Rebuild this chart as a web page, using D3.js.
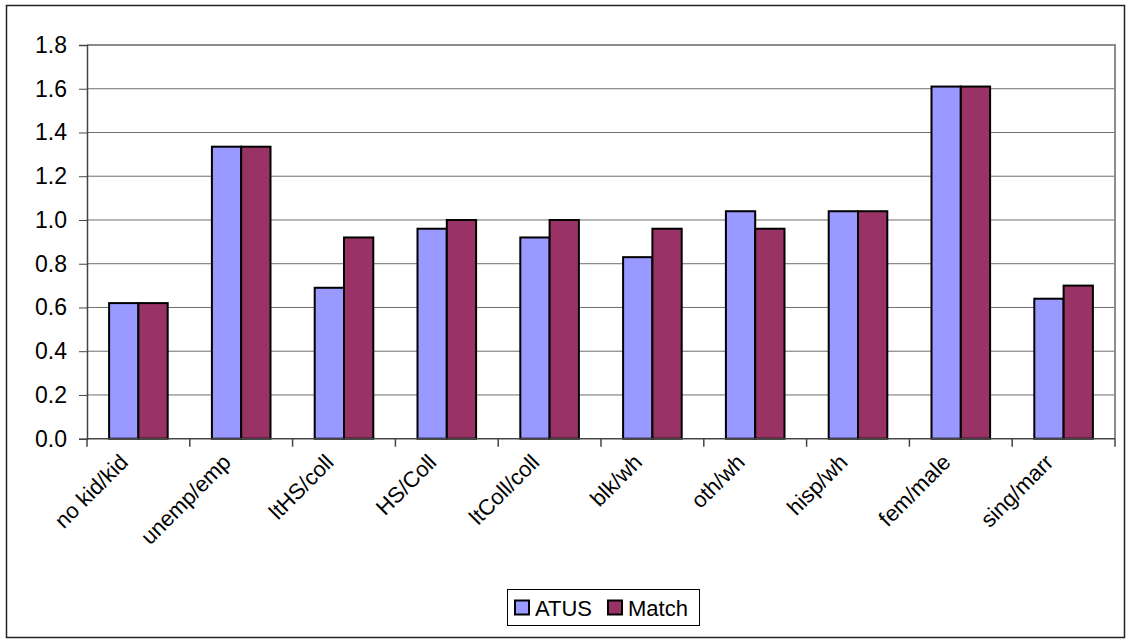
<!DOCTYPE html>
<html><head><meta charset="utf-8">
<script src="https://cdn.jsdelivr.net/npm/d3@7"></script>
<style>body{margin:0;background:#fff}svg{display:block}text{font-family:"Liberation Sans",Arial,sans-serif;fill:#000}</style>
</head><body><svg id="c" width="1130" height="640"></svg>
<script>
const categories = ["no kid/kid","unemp/emp","ltHS/coll","HS/Coll","ltColl/coll","blk/wh","oth/wh","hisp/wh","fem/male","sing/marr"];
const atus  = [0.62,1.335,0.69,0.96,0.92,0.83,1.04,1.04,1.61,0.64];
const match = [0.62,1.335,0.92,1.00,1.00,0.96,0.96,1.04,1.61,0.70];
const seriesNames = ["ATUS","Match"];
const seriesColors = ["#9999FF","#993366"];
const yTicks = [0,0.2,0.4,0.6,0.8,1.0,1.2,1.4,1.6,1.8];

const svg = d3.select("#c");
const L=87, R=1115, T=45, B=438.7;
svg.append("rect").attr("x",6.5).attr("y",5.5).attr("width",1118).attr("height",632)
  .attr("fill","#fff").attr("stroke","#222").attr("stroke-width",1.5);

const x = d3.scaleBand().domain(categories).range([L,R]).paddingInner(0.43).paddingOuter(0.215);
const xs = d3.scaleBand().domain(seriesNames).range([0,x.bandwidth()]);
const y = d3.scaleLinear().domain([0,1.8]).range([B,T]);

// gridlines
svg.append("g").selectAll("line").data(yTicks.slice(1)).join("line")
  .attr("x1",L).attr("x2",R).attr("y1",d=>y(d)).attr("y2",d=>y(d))
  .attr("stroke","#6e6e6e").attr("stroke-width",1);
// plot frame top/right
svg.append("path").attr("d",`M${L},${T}H${R}V${B}`).attr("fill","none").attr("stroke","#8c8c8c").attr("stroke-width",2);

// y axis
const yAxis = d3.axisLeft(y).tickValues(yTicks).tickFormat(d3.format(".1f")).tickSize(8).tickPadding(12);
const gy = svg.append("g").attr("transform",`translate(${L},0)`).call(yAxis);
gy.select(".domain").attr("stroke","#444").attr("stroke-width",1.5);
gy.selectAll(".tick line").attr("stroke","#444");
gy.selectAll("text").attr("font-size",23).attr("font-family","Liberation Sans, Arial, sans-serif").attr("fill","#000");

// bars
const g = svg.append("g");
categories.forEach((c,i)=>{
  [atus[i],match[i]].forEach((v,j)=>{
    g.append("rect").attr("x",x(c)+xs(seriesNames[j])).attr("y",y(v))
      .attr("width",xs.bandwidth()).attr("height",y(0)-y(v))
      .attr("fill",seriesColors[j]).attr("stroke","#000").attr("stroke-width",2);
  });
});

// x axis
const bounds = d3.range(categories.length+1).map(i=>L+i*(R-L)/categories.length);
svg.append("line").attr("x1",L).attr("x2",R).attr("y1",B).attr("y2",B).attr("stroke","#444").attr("stroke-width",1.5);
svg.append("g").selectAll("line").data(bounds).join("line")
  .attr("x1",d=>d).attr("x2",d=>d).attr("y1",B).attr("y2",B+8).attr("stroke","#444").attr("stroke-width",1.5);
svg.append("g").selectAll("text").data(categories).join("text")
  .attr("transform",d=>`translate(${x(d)+x.bandwidth()/2-9},${B+25}) rotate(-45)`)
  .attr("text-anchor","end").attr("font-size",22).text(d=>d);

// legend
const lg = svg.append("g");
lg.append("rect").attr("x",507.5).attr("y",589.5).attr("width",192).attr("height",36).attr("fill","#fff").attr("stroke","#000").attr("stroke-width",1);
const lx=[514,607];
seriesNames.forEach((s,j)=>{
  lg.append("rect").attr("x",lx[j]+1).attr("y",600.5).attr("width",14).attr("height",14)
    .attr("fill",seriesColors[j]).attr("stroke","#000").attr("stroke-width",2);
  lg.append("text").attr("x",lx[j]+21).attr("y",615.5).attr("font-size",22).text(s);
});
</script></body></html>
